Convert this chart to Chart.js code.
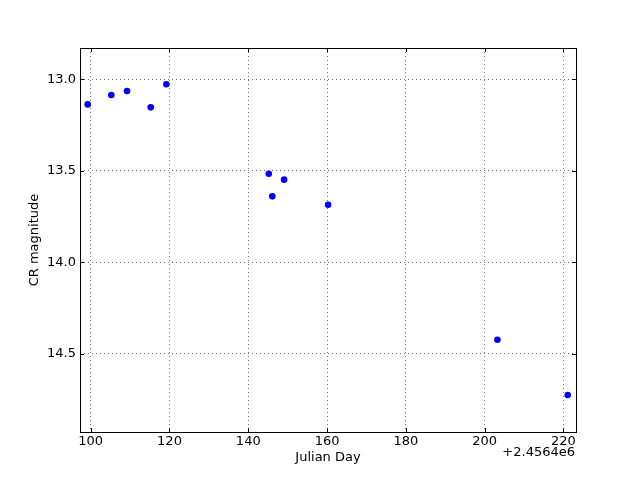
<!DOCTYPE html>
<html>
<head>
<meta charset="utf-8">
<script src="https://cdn.jsdelivr.net/npm/chart.js@4/dist/chart.umd.min.js"></script>
<style>
html,body{margin:0;padding:0;background:#fff;}
#wrap{width:640px;height:480px;}
</style>
</head>
<body>
<div id="wrap"><canvas id="c" width="640" height="480"></canvas></div>
<script>
// Julian Day minus offset 2456400
const OFFSET_LABEL = "+2.4564e6";
const julianDay = [99.24, 105.23, 109.22, 115.24, 119.2, 145.2, 146.1, 149.1, 160.26, 203.25, 221.1];
const crMagnitude = [13.137, 13.086, 13.064, 13.153, 13.027, 13.516, 13.639, 13.548, 13.685, 14.422, 14.724];
const xTicks = [100, 120, 140, 160, 180, 200, 220];
const yTicks = [13.0, 13.5, 14.0, 14.5];
const xRange = [97.28, 223.2];
const yRange = [12.829, 14.926];

const FONT = "'DejaVu Sans', sans-serif";
const FS = 13;
const points = julianDay.map((x, i) => ({x: x, y: crMagnitude[i]}));

const frame = {
  id: 'frame',
  afterDatasetsDraw(chart) {
    const ctx = chart.ctx, a = chart.chartArea;
    const xs = chart.scales.x, ys = chart.scales.y;
    ctx.save();
    ctx.strokeStyle = '#000';
    ctx.lineWidth = 1;
    ctx.setLineDash([]);
    ctx.beginPath();
    xTicks.forEach(v => {
      const p = Math.round(xs.getPixelForValue(v)) + 0.5;
      ctx.moveTo(p, a.bottom); ctx.lineTo(p, a.bottom - 4);
      ctx.moveTo(p, a.top); ctx.lineTo(p, a.top + 4);
    });
    yTicks.forEach(v => {
      const p = Math.round(ys.getPixelForValue(v)) + 0.5;
      ctx.moveTo(a.left, p); ctx.lineTo(a.left + 4, p);
      ctx.moveTo(a.right, p); ctx.lineTo(a.right - 4, p);
    });
    ctx.stroke();
    ctx.strokeRect(Math.round(a.left) + 0.5, Math.round(a.top) + 0.5,
                   Math.round(a.right - a.left), Math.round(a.bottom - a.top));
    ctx.fillStyle = '#000';
    ctx.font = FS + 'px ' + FONT;
    ctx.textAlign = 'right';
    ctx.textBaseline = 'middle';
    ctx.fillText(OFFSET_LABEL, a.right - 1, 453);
    ctx.restore();
  }
};

new Chart(document.getElementById('c'), {
  type: 'scatter',
  data: {
    datasets: [{
      data: points,
      backgroundColor: '#0000ff',
      borderColor: '#0000ff',
      borderWidth: 0,
      pointRadius: 3.3,
      pointHoverRadius: 3.3
    }]
  },
  options: {
    responsive: false,
    animation: false,
    devicePixelRatio: 1,
    layout: {padding: {top: 48, right: 64, left: 0, bottom: 0}},
    plugins: {legend: {display: false}, tooltip: {enabled: false}},
    scales: {
      x: {
        type: 'linear',
        min: xRange[0], max: xRange[1],
        afterBuildTicks: s => { s.ticks = xTicks.map(v => ({value: v})); },
        afterFit: s => { s.height = 48; },
        border: {display: false, dash: [1, 3]},
        grid: {color: '#707070', lineWidth: 1, drawTicks: false},
        ticks: {color: '#000', font: {family: FONT, size: FS}, padding: 2, maxRotation: 0,
                callback: v => String(v)},
        title: {display: true, text: 'Julian Day', color: '#000', font: {family: FONT, size: FS},
                padding: {top: 0, bottom: 15}}
      },
      y: {
        type: 'linear',
        reverse: true,
        min: yRange[0], max: yRange[1],
        afterBuildTicks: s => { s.ticks = yTicks.map(v => ({value: v})); },
        afterFit: s => { s.width = 80; },
        border: {display: false, dash: [1, 3]},
        grid: {color: '#707070', lineWidth: 1, drawTicks: false},
        ticks: {color: '#000', font: {family: FONT, size: FS}, padding: 4,
                callback: v => Number(v).toFixed(1)},
        title: {display: true, text: 'CR magnitude', color: '#000', font: {family: FONT, size: FS},
                padding: {top: 27, bottom: 0}}
      }
    }
  },
  plugins: [frame]
});
</script>
</body>
</html>
